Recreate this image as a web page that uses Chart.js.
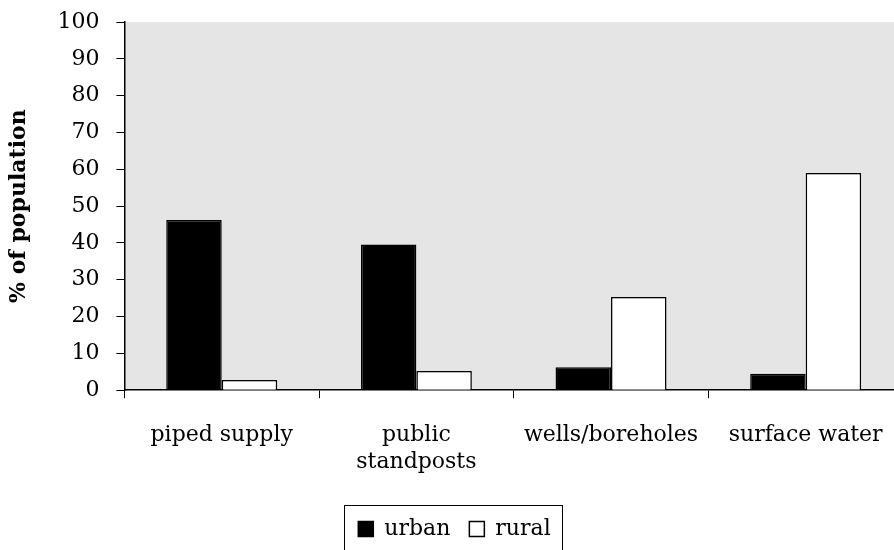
<!DOCTYPE html>
<html>
<head>
<meta charset="utf-8">
<script src="https://cdn.jsdelivr.net/npm/chart.js@4/dist/chart.umd.min.js"></script>
<style>
  html, body { margin: 0; padding: 0; background: #fff; overflow: hidden; }
  #wrap { width: 912px; height: 550px; position: relative; }
</style>
</head>
<body>
<div id="wrap"><canvas id="chart"></canvas></div>
<script>
const CATEGORIES = ['piped supply', ['public', 'standposts'], 'wells/boreholes', 'surface water'];
const URBAN = [46.2, 39.6, 6.2, 4.5];
const RURAL = [2.8, 5.2, 25.3, 59];
const Y_MIN = 0, Y_MAX = 100, Y_STEP = 10;

const SERIF = "'DejaVu Serif', serif";
const INK = '#000';
const PLOT_BG = '#e5e5e5';

// grey plot area + frame round the legend
const plotBg = {
  id: 'plotBg',
  beforeDraw(chart) {
    const { ctx, chartArea: a } = chart;
    ctx.save();
    ctx.fillStyle = PLOT_BG;
    ctx.fillRect(a.left, a.top, a.right - a.left, a.bottom - a.top);
    ctx.restore();
  },
  afterDraw(chart) {
    const lg = chart.legend;
    if (!lg || !lg.legendHitBoxes.length) return;
    const boxes = lg.legendHitBoxes;
    const left = boxes[0].left - 14;
    const right = boxes[boxes.length - 1].left + boxes[boxes.length - 1].width + 12;
    const top = boxes[0].top - 13;
    const { ctx } = chart;
    ctx.save();
    ctx.strokeStyle = INK;
    ctx.lineWidth = 1;
    ctx.strokeRect(Math.round(left) + 0.5, Math.round(top) + 0.5, Math.round(right - left), 80);
    ctx.restore();
  },
};

new Chart(document.getElementById('chart'), {
  type: 'bar',
  data: {
    labels: CATEGORIES,
    datasets: [
      { label: 'urban', data: URBAN, backgroundColor: INK, borderColor: INK, borderWidth: 1.5 },
      { label: 'rural', data: RURAL, backgroundColor: '#fff', borderColor: INK, borderWidth: 1.5 },
    ],
  },
  options: {
    responsive: true, maintainAspectRatio: false, animation: false,
    barPercentage: 1, categoryPercentage: 0.57,
    layout: { padding: { top: 22, right: 9, bottom: 0, left: 6 } },
    plugins: {
      tooltip: { enabled: false },
      legend: {
        position: 'bottom',
        labels: {
          color: INK, font: { family: SERIF, size: 22 },
          boxWidth: 15, boxHeight: 15, padding: 19, useBorderRadius: false,
        },
      },
    },
    scales: {
      x: {
        grid: { drawOnChartArea: false, drawTicks: true, tickLength: 8, color: INK, offset: true },
        border: { color: INK, width: 1.5 },
        ticks: { color: INK, font: { family: SERIF, size: 22, lineHeight: 1.2 }, padding: 24, maxRotation: 0, autoSkip: false },
      },
      y: {
        min: Y_MIN, max: Y_MAX,
        afterFit(scale) { scale.paddingTop = 0; scale.paddingBottom = 0; },
        grid: { drawOnChartArea: false, drawTicks: true, tickLength: 8, color: INK },
        border: { color: INK, width: 1.5 },
        ticks: { stepSize: Y_STEP, color: INK, font: { family: SERIF, size: 22 }, padding: 17 },
        title: {
          display: true, text: '% of population', color: INK,
          font: { family: SERIF, size: 22, weight: 'bold' },
          padding: { top: 0, bottom: 8 },
        },
      },
    },
  },
  plugins: [plotBg],
});
</script>
</body>
</html>
